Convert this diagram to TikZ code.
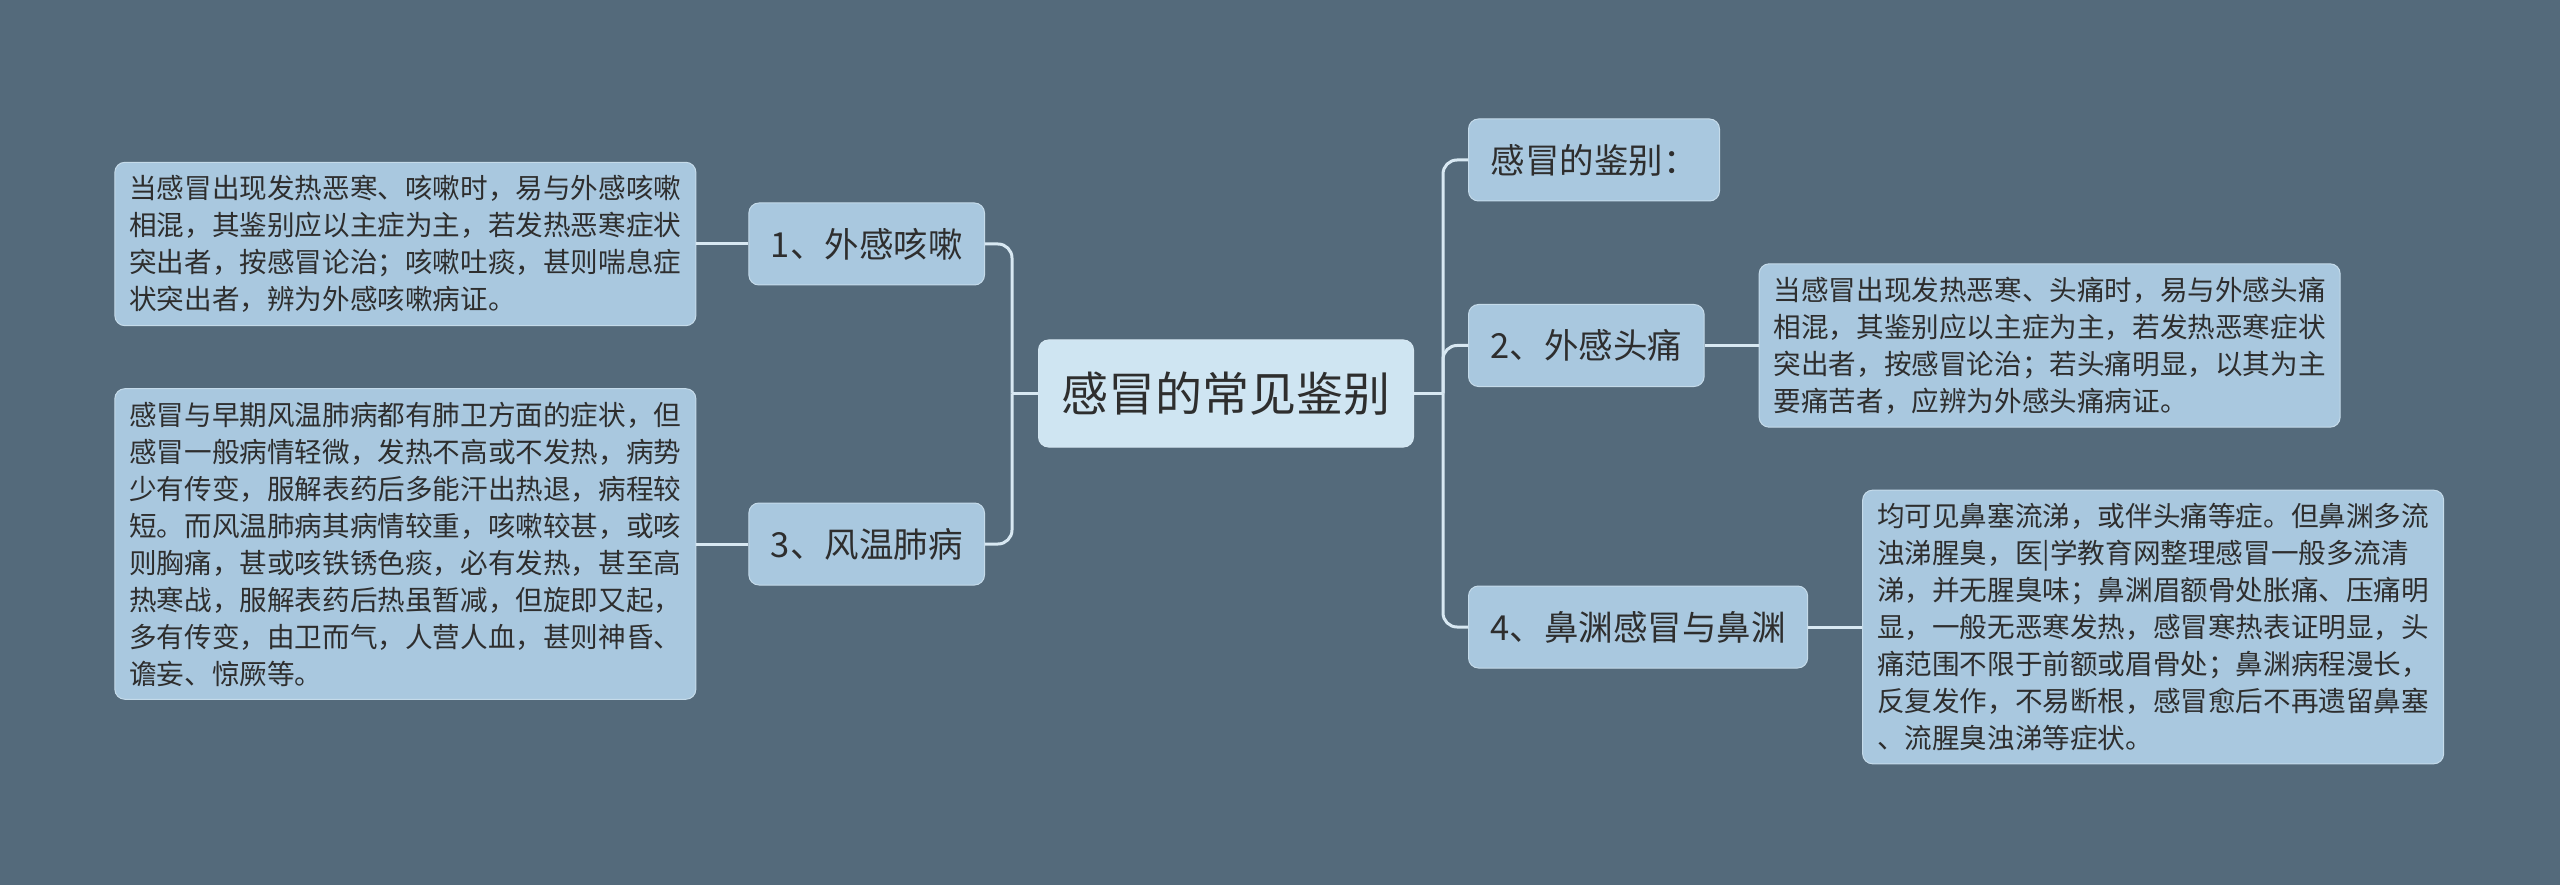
\documentclass[tikz,border=0pt]{standalone}
\usepackage{fontspec}
\usepackage{xcolor}
\usetikzlibrary{positioning}
\setmainfont{Noto Sans CJK SC}

\definecolor{bgc}{HTML}{546A7B}
\definecolor{boxc}{HTML}{A9C8DF}
\definecolor{rootc}{HTML}{CFE5F2}
\definecolor{linec}{HTML}{D8E8F2}
\definecolor{txtc}{HTML}{2E2E2E}

\tikzset{
  rootbox/.style={fill=rootc, draw=linec!70!rootc, line width=1pt, rounded corners=10pt,
    text=txtc, minimum height=107pt, inner xsep=23pt, font=\fontsize{47}{56}\selectfont},
  kidbox/.style={fill=boxc, draw=linec!60!boxc, line width=1pt, rounded corners=10pt,
    text=txtc, minimum height=82pt, inner xsep=22pt, font=\fontsize{34.5}{40}\selectfont},
  notebox/.style={fill=boxc, draw=linec!60!boxc, line width=1pt, rounded corners=10pt,
    text=txtc, align=left, inner xsep=14.5pt, inner ysep=13pt,
    font=\fontsize{27.6}{37}\selectfont},
  link/.style={draw=linec, line width=3pt, rounded corners=14pt},
}

\begin{document}
\begin{tikzpicture}[x=1pt,y=-1pt]
  \fill[bgc] (0,0) rectangle (2560,885);
  \useasboundingbox (0,0) rectangle (2560,885);

  % centre
  \node[rootbox] (root) at (1226,393.5) {感冒的常见鉴别};

  % right side
  \node[kidbox, anchor=west] (k0) at (1468,160) {感冒的鉴别：};
  \node[kidbox, anchor=west] (k2) at (1468,345.5) {2、外感头痛};
  \node[kidbox, anchor=west] (k4) at (1468,627) {4、鼻渊感冒与鼻渊};
  \node[notebox, right=54pt of k2] (d2) {当感冒出现发热恶寒、头痛时，易与外感头痛\\
    相混，其鉴别应以主症为主，若发热恶寒症状\\
    突出者，按感冒论治；若头痛明显，以其为主\\
    要痛苦者，应辨为外感头痛病证。};
  \node[notebox, right=54pt of k4] (d4) {均可见鼻塞流涕，或伴头痛等症。但鼻渊多流\\
    浊涕腥臭，医|学教育网整理感冒一般多流清\\
    涕，并无腥臭味；鼻渊眉额骨处胀痛、压痛明\\
    显，一般无恶寒发热，感冒寒热表证明显，头\\
    痛范围不限于前额或眉骨处；鼻渊病程漫长，\\
    反复发作，不易断根，感冒愈后不再遗留鼻塞\\
    、流腥臭浊涕等症状。};

  % left side
  \node[kidbox, anchor=east] (k1) at (985,244) {1、外感咳嗽};
  \node[kidbox, anchor=east] (k3) at (985,544) {3、风温肺病};
  \node[notebox, left=52pt of k1] (d1) {当感冒出现发热恶寒、咳嗽时，易与外感咳嗽\\
    相混，其鉴别应以主症为主，若发热恶寒症状\\
    突出者，按感冒论治；咳嗽吐痰，甚则喘息症\\
    状突出者，辨为外感咳嗽病证。};
  \node[notebox, left=52pt of k3] (d3) {感冒与早期风温肺病都有肺卫方面的症状，但\\
    感冒一般病情轻微，发热不高或不发热，病势\\
    少有传变，服解表药后多能汗出热退，病程较\\
    短。而风温肺病其病情较重，咳嗽较甚，或咳\\
    则胸痛，甚或咳铁锈色痰，必有发热，甚至高\\
    热寒战，服解表药后热虽暂减，但旋即又起，\\
    多有传变，由卫而气，人营人血，甚则神昏、\\
    谵妄、惊厥等。};

  % connectors
  \coordinate (rt) at ([xshift=29pt]root.east);
  \coordinate (lt) at ([xshift=-26pt]root.west);
  \draw[link] (root.east) -- (rt);
  \draw[link] (rt) |- (k0.west);
  \draw[link] (rt) |- (k2.west);
  \draw[link] (rt) |- (k4.west);
  \draw[link] (root.west) -- (lt);
  \draw[link] (lt) |- (k1.east);
  \draw[link] (lt) |- (k3.east);
  \draw[link] (k2) -- (d2);
  \draw[link] (k4) -- (d4);
  \draw[link] (k1) -- (d1);
  \draw[link] (k3) -- (d3);
\end{tikzpicture}
\end{document}
